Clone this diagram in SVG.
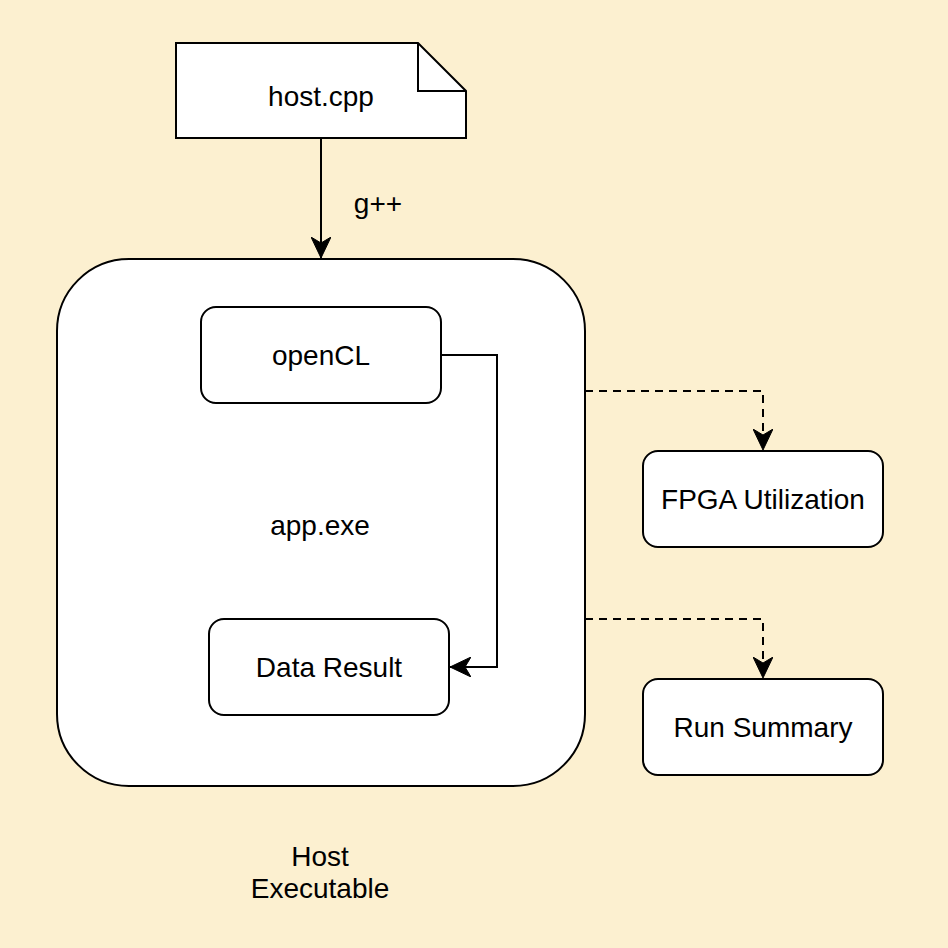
<svg xmlns="http://www.w3.org/2000/svg" width="948" height="948" viewBox="0 0 948 948">
<style>
.shape{fill:#ffffff;stroke:#000000;stroke-width:2}
.lbl{font-family:"Liberation Sans",Arial,Helvetica,sans-serif;font-size:28px;fill:#000000;text-anchor:middle}
.edge{fill:none;stroke:#000000;stroke-width:2}
.dash{stroke-dasharray:8 6}
</style>
<defs>
<marker id="arr" markerUnits="userSpaceOnUse" viewBox="0 0 22 20" refX="21" refY="10" markerWidth="22" markerHeight="20" orient="auto">
<path d="M0,0 L21,10 L0,20 L6,10 Z" fill="#000000" stroke="#000000" stroke-width="1"/>
</marker>
</defs>
<rect width="948" height="948" fill="#fcf0d0"/>
<g id="host-cpp">
<path class="shape" d="M176,43 H418 L466,91 V138 H176 Z"/>
<path class="edge" d="M418,43 V91 H466"/>
<text class="lbl" x="321" y="106">host.cpp</text>
</g>
<g id="app-exe">
<rect class="shape" x="57" y="259" width="528" height="527" rx="72" ry="72"/>
<text class="lbl" x="320" y="535">app.exe</text>
</g>
<g id="opencl">
<rect class="shape" x="201" y="307" width="240" height="96" rx="15" ry="15"/>
<text class="lbl" x="321" y="365">openCL</text>
</g>
<g id="data-result">
<rect class="shape" x="209" y="619" width="240" height="96" rx="15" ry="15"/>
<text class="lbl" x="329" y="677">Data Result</text>
</g>
<g id="fpga-utilization">
<rect class="shape" x="643" y="451" width="240" height="96" rx="15" ry="15"/>
<text class="lbl" x="763" y="509">FPGA Utilization</text>
</g>
<g id="run-summary">
<rect class="shape" x="643" y="679" width="240" height="96" rx="15" ry="15"/>
<text class="lbl" x="763" y="737">Run Summary</text>
</g>
<g id="host-executable-label">
<text class="lbl" x="320" y="866">Host</text>
<text class="lbl" x="320" y="898">Executable</text>
</g>
<g id="connectors">
<path class="edge" d="M321,138 V258" marker-end="url(#arr)"/>
<text class="lbl" x="378" y="213">g++</text>
<path class="edge" d="M441,355 H497 V667 H450" marker-end="url(#arr)"/>
<path class="edge dash" d="M585,391 H763 V450" marker-end="url(#arr)"/>
<path class="edge dash" d="M585,619 H763 V678" marker-end="url(#arr)"/>
</g>
</svg>
